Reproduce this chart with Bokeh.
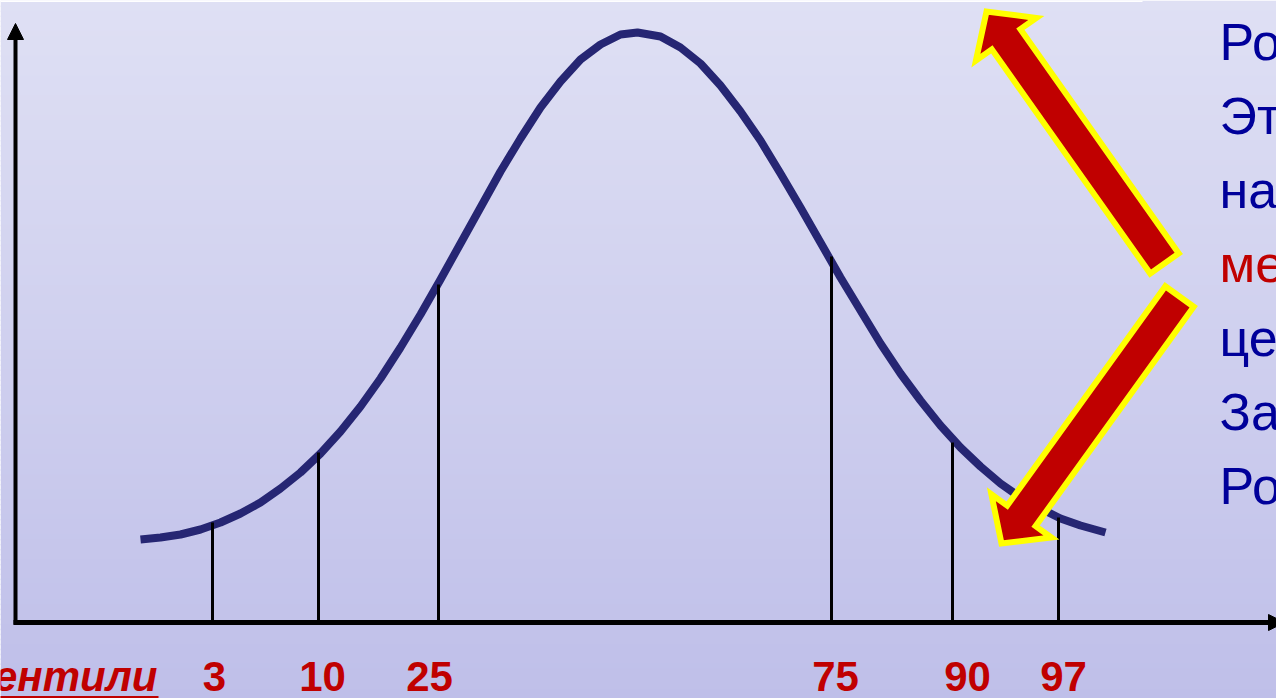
import numpy as np
from bokeh.plotting import figure
from bokeh.models import Range1d, Arrow, NormalHead
from bokeh.core.properties import value
from bokeh.embed import file_html
from bokeh.resources import INLINE

# Bell-shaped growth distribution: position along the measure axis and height above the baseline
curve_x = [140, 160, 180, 200, 220, 240, 260, 280, 300, 320, 340, 360, 380, 400, 420, 440,
           460, 480, 500, 520, 540, 560, 580, 600, 620, 637, 660, 680, 700, 720, 740, 760,
           780, 800, 820, 840, 860, 880, 900, 920, 940, 960, 980, 1000, 1020, 1040, 1060,
           1080, 1105]
curve_h = [83, 85, 88, 93, 100, 109, 120, 134, 150, 169, 191, 216, 244, 275, 308, 343,
           379, 415, 451, 484, 515, 541, 563, 578, 588, 590, 586, 575, 559, 537, 511, 482,
           449, 415, 380, 345, 312, 279, 249, 222, 197, 175, 156, 139, 125, 114, 104,
           97, 90]

# Percentile cut-offs
percentile_labels = ["3", "10", "25", "75", "90", "97"]
percentile_x = [212, 318, 438, 831, 952, 1058]
percentile_h = [100, 170, 338, 366, 180, 105]

axis_title = "Перцентили"
side_lines = ["Ро", "Эт", "на", "ме", "це", "За", "Ро"]
side_colors = ["#00009A", "#00009A", "#00009A", "#C00000", "#00009A", "#00009A", "#00009A"]

# ---- layout ----
W, H = 1276, 698
BASE = 622          # pixel row of the horizontal axis
label_x = [214, 322, 429, 835, 967, 1063]
LABEL_PX = 42
SIDE_PX = 52
BASELINE_SHIFT = 0.41   # alphabetic baseline correction, in em


def py(pix):
    """Screen row -> data height (1 data unit = 1 px)."""
    return BASE - pix


p = figure(width=W, height=H, output_backend="svg", toolbar_location=None,
           x_range=Range1d(0, W), y_range=Range1d(BASE - H, BASE),
           x_axis_location=None, y_axis_location=None, min_border=0)
p.grid.visible = False
p.outline_line_color = None
p.background_fill_color = None
p.border_fill_color = "#C0C0E8"

# vertical lavender gradient (bands overlap to avoid seams)
n = 140
rows = np.linspace(0, H, n + 1)
step = rows[1] - rows[0]
top_c = np.array([223, 224, 244])
bot_c = np.array([191, 191, 233])
cols = []
for i in range(n):
    t = (rows[i] + step / 2) / H
    c = (top_c * (1 - t) + bot_c * t).round().astype(int)
    cols.append("#%02x%02x%02x" % tuple(c))
p.quad(left=0, right=W, top=[py(r) for r in rows[:-1]],
       bottom=[py(r + step + 1.5) for r in rows[:-1]],
       fill_color=cols, line_color=None)
# thin white strip along the top edge
p.quad(left=0, right=1142, top=py(0), bottom=py(1.5), fill_color="white", line_color=None)

# axes with arrowheads
p.add_layout(Arrow(end=NormalHead(size=16, fill_color="black", line_color="black", line_width=1),
                   x_start=15, y_start=-2, x_end=15, y_end=py(23), line_width=4, line_color="black"))
p.add_layout(Arrow(end=NormalHead(size=16, fill_color="black", line_color="black", line_width=1),
                   x_start=13, y_start=0, x_end=1284, y_end=0, line_width=5, line_color="black"))

# distribution curve
p.line(curve_x, curve_h, line_width=8, line_color="#262673", line_cap="butt", line_join="round")

# percentile markers
p.segment(x0=percentile_x, y0=[0] * len(percentile_x), x1=percentile_x, y1=percentile_h,
          line_width=3, line_color="black")

# percentile labels
lab_y = py(693 - BASELINE_SHIFT * LABEL_PX)
p.text(x=label_x, y=[lab_y] * len(label_x), text=percentile_labels,
       text_font=value("Liberation Sans"), text_font_style="bold", text_font_size=f"{LABEL_PX}px",
       text_color="#C00000", text_align="center", text_baseline="alphabetic")
p.text(x=[157], y=[lab_y], text=[axis_title],
       text_font=value("Liberation Sans"), text_font_style="bold italic", text_font_size=f"{LABEL_PX}px",
       text_color="#C00000", text_align="right", text_baseline="alphabetic")
p.segment(x0=[-10], y0=[py(696.5)], x1=[158], y1=[py(696.5)], line_width=2, line_color="#C00000")

# side text column
p.text(x=[1219] * len(side_lines),
       y=[py(63 + 74 * i - BASELINE_SHIFT * SIDE_PX) for i in range(len(side_lines))],
       text=side_lines, text_font=value("Liberation Sans"), text_font_size=f"{SIDE_PX}px",
       text_color=side_colors, text_align="left", text_baseline="alphabetic")


def block_arrow(tail, tip, shaft_w, head_w, head_len):
    tail = np.array(tail, float)
    tip = np.array(tip, float)
    d = tip - tail
    u = d / np.hypot(*d)
    nrm = np.array([-u[1], u[0]])
    base = tip - u * head_len
    pts = [tail + nrm * shaft_w / 2, base + nrm * shaft_w / 2, base + nrm * head_w / 2, tip,
           base - nrm * head_w / 2, base - nrm * shaft_w / 2, tail - nrm * shaft_w / 2]
    return [q[0] for q in pts], [py(q[1]) for q in pts]


# block arrows pointing to the upper and lower ends of the curve (tail, tip in screen px)
arrow_specs = [((1164, 263), (986, 11)), ((1179, 296), (1001, 543))]
xs, ys = [], []
for tail, tip in arrow_specs:
    ax, ay = block_arrow(tail, tip, 35, 74, 34)
    xs.append(ax)
    ys.append(ay)
p.patches(xs, ys, fill_color="#C00000", line_color="#FFFF00", line_width=6, line_join="miter")

open("out.html", "w").write(file_html(p, INLINE))
